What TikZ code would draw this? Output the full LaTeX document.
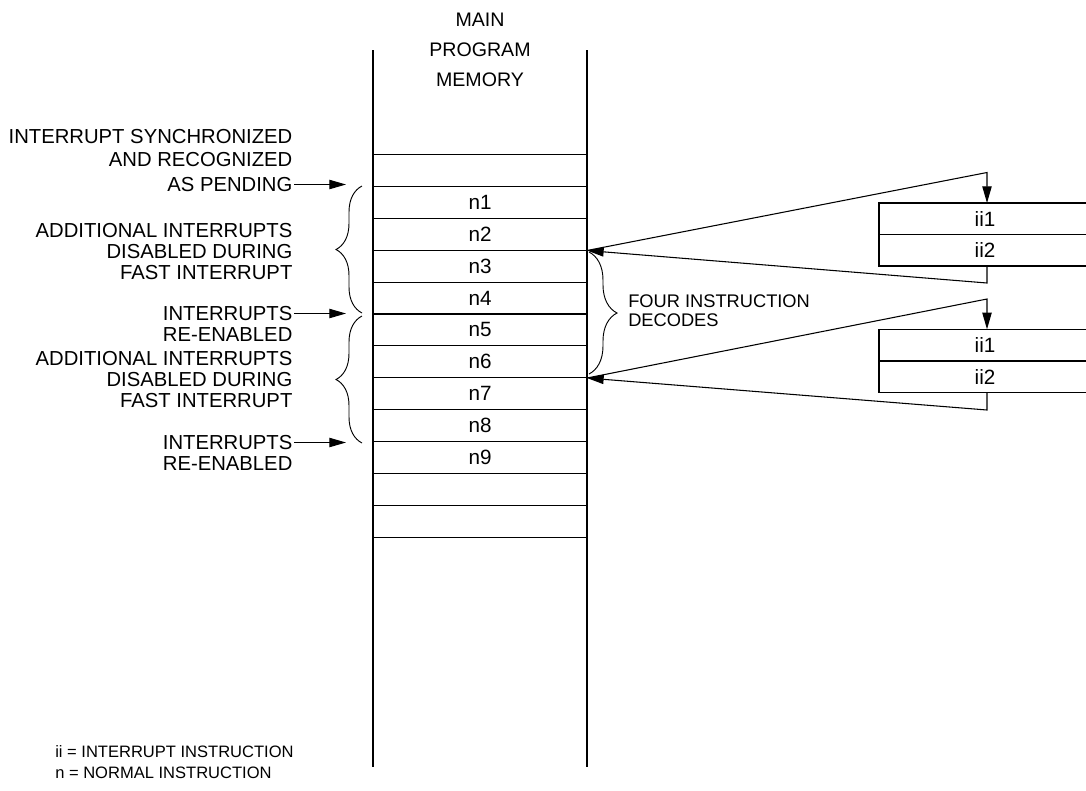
\documentclass[tikz,border=0pt]{standalone}
\usepackage{fontspec}
\setmainfont{Liberation Sans}
\usetikzlibrary{arrows.meta,decorations.pathreplacing}
\begin{document}
\begin{tikzpicture}[x=0.75pt,y=-0.75pt,
  line/.style={line width=0.8pt},
  arr/.style={line width=0.8pt,-{Triangle[length=12.5pt,width=7pt]}},
  lbl/.style={inner sep=1pt, font=\fontsize{15.2}{16.2}\selectfont, align=right, anchor=east},
  cell/.style={inner sep=0pt, font=\fontsize{15.5}{17}\selectfont},
  brc/.style={line width=0.7pt, decorate, decoration={brace, amplitude=19.5pt}},
  rbrc/.style={line width=0.7pt, decorate, decoration={brace, amplitude=21pt}},
]
\useasboundingbox (0,0) rectangle (1086,790);

% header
\node[font=\fontsize{14.7}{22.5}\selectfont, align=center] (head) at (480,50) {MAIN\\PROGRAM\\MEMORY};

% memory column
\coordinate (cTL) at (373,50);
\coordinate (cBL) at (373,767);
\coordinate (cTR) at (587,50);
\coordinate (cBR) at (587,767);
\draw[line] (cTL) -- (cBL);
\draw[line] (cTR) -- (cBR);
\foreach \k in {0,...,12}{
  \pgfmathsetmacro{\yy}{154.5+31.9*\k}
  \draw[line] (373,\yy) -- (587,\yy);
}
\foreach \i in {1,...,9}{
  \pgfmathsetmacro{\yy}{154.5+31.9*(\i+0.5)}
  \node[cell] (n\i) at (480,\yy) {n\i};
}

% left labels
\node[lbl, font=\fontsize{15.2}{17.25}\selectfont] (sync) at (294,148.5) {INTERRUPT SYNCHRONIZED\\AND RECOGNIZED};
\node[lbl] (pend) at (294,184.5) {AS PENDING};
\node[lbl, font=\fontsize{15.2}{16.1}\selectfont] (dis1) at (294,251.5) {ADDITIONAL INTERRUPTS\\DISABLED DURING\\FAST INTERRUPT};
\node[lbl] (ie1) at (294,313.5) {INTERRUPTS};
\node[lbl] (re1) at (294,334.5) {RE-ENABLED};
\node[lbl, font=\fontsize{15.2}{16.1}\selectfont] (dis2) at (294,379.5) {ADDITIONAL INTERRUPTS\\DISABLED DURING\\FAST INTERRUPT};
\node[lbl] (ie2) at (294,442.5) {INTERRUPTS};
\node[lbl] (re2) at (294,463.5) {RE-ENABLED};

\coordinate (ax) at (346,0);
\draw[arr] (pend.east) -- (pend.east -| ax);
\draw[arr] (ie1.east) -- (ie1.east -| ax);
\draw[arr] (ie2.east) -- (ie2.east -| ax);

% left braces
\coordinate (b1s) at (362,313);
\coordinate (b1e) at (362,186);
\coordinate (b2s) at (362,443);
\coordinate (b2e) at (362,316);
\draw[brc] (b1s) -- (b1e);
\draw[brc] (b2s) -- (b2e);

% right brace and label
\coordinate (rbs) at (589,252);
\coordinate (rbe) at (589,374);
\draw[rbrc] (rbs) -- (rbe);
\node[anchor=west, align=left, inner sep=0pt, font=\fontsize{13.7}{14.3}\selectfont] (four) at (628,310.5) {FOUR INSTRUCTION\\DECODES};

% interrupt boxes
\draw[line] (1086,203) -- (879,203) -- (879,266) -- (1086,266);
\draw[line] (879,234.5) -- (1086,234.5);
\node[cell] (ia1) at (985,218.75) {ii1};
\node[cell] (ia2) at (985,250.25) {ii2};

\draw[line] (1086,329.3) -- (879,329.3) -- (879,392.7) -- (1086,392.7);
\draw[line] (879,361) -- (1086,361);
\node[cell] (ib1) at (985,345.15) {ii1};
\node[cell] (ib2) at (985,376.85) {ii2};

% arrows
\coordinate (t1) at (587,250.5);
\coordinate (t2) at (587,378);
\coordinate (p1) at (987,172.5);
\coordinate (top1) at (987,203);
\coordinate (bot1) at (987,266);
\coordinate (q1) at (987,283);
\coordinate (p2) at (987,299);
\coordinate (top2) at (987,329.3);
\coordinate (bot2) at (987,392.7);
\coordinate (q2) at (987,410);
\draw[arr] (t1) -- (p1) -- (top1);
\draw[arr] (bot1) -- (q1) -- (t1);
\draw[arr] (t2) -- (p2) -- (top2);
\draw[arr] (bot2) -- (q2) -- (t2);

% legend
\node[anchor=west, align=left, inner sep=0pt, font=\fontsize{12.4}{15.75}\selectfont] (legend) at (55,762.5) {ii = INTERRUPT INSTRUCTION\\n = NORMAL INSTRUCTION};
\end{tikzpicture}
\end{document}
